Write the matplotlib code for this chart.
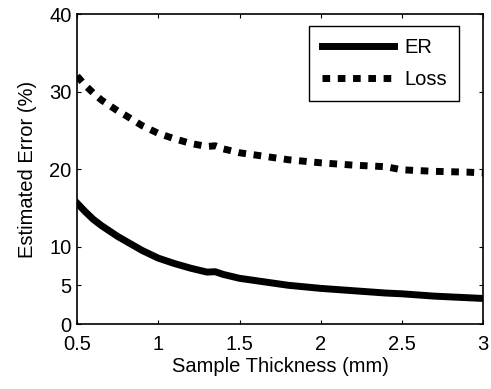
import matplotlib
matplotlib.use("Agg")
import matplotlib.pyplot as plt

plt.rcParams['font.family'] = ['Liberation Sans', 'DejaVu Sans']

# sample thickness (mm)
thickness = [0.5, 0.55, 0.6, 0.65, 0.7, 0.75, 0.8, 0.9, 1.0, 1.1, 1.2, 1.3,
             1.35, 1.4, 1.5, 1.6, 1.7, 1.8, 1.9, 2.0, 2.2, 2.4, 2.5, 2.7,
             2.9, 3.0]
# estimated error (%)
er = [15.6, 14.5, 13.5, 12.7, 12.0, 11.3, 10.7, 9.5, 8.5, 7.8, 7.2, 6.7,
      6.75, 6.4, 5.9, 5.6, 5.3, 5.0, 4.8, 4.6, 4.3, 4.0, 3.9, 3.6, 3.4, 3.3]
loss = [32.0, 30.8, 29.8, 28.9, 28.2, 27.5, 26.9, 25.6, 24.6, 23.9, 23.3,
        22.9, 23.0, 22.6, 22.1, 21.8, 21.5, 21.2, 21.0, 20.8, 20.5, 20.3,
        19.9, 19.7, 19.6, 19.5]

fig = plt.figure(figsize=(4.91, 3.89), dpi=100)
ax = fig.add_axes([0.157, 0.167, 0.827, 0.797])

ax.plot(thickness, er, color='black', lw=5, label='ER')
ax.plot(thickness, loss, color='black', lw=5, linestyle=(0, (1.1, 1.1)),
        dash_capstyle='butt', label='Loss')

ax.set_xlim(0.5, 3)
ax.set_ylim(0, 40)
ax.set_xticks([0.5, 1, 1.5, 2, 2.5, 3])
ax.set_xticklabels(['0.5', '1', '1.5', '2', '2.5', '3'])
ax.set_yticks([0, 5, 10, 20, 30, 40])
ax.tick_params(direction='in', top=True, right=True, labelsize=14.5, length=3)
ax.tick_params(axis='x', pad=8)
ax.tick_params(axis='y', pad=4)
for s in ax.spines.values():
    s.set_linewidth(1.2)

ax.set_xlabel('Sample Thickness (mm)', fontsize=14.5, labelpad=2)
ax.set_ylabel('Estimated Error (%)', fontsize=14.5, labelpad=9)

leg = ax.legend(loc='upper right', fontsize=14.5, handlelength=3.6,
                fancybox=False, framealpha=1, edgecolor='black',
                bbox_to_anchor=(0.94, 0.96), borderaxespad=0,
                borderpad=0.6, labelspacing=0.6, handletextpad=0.5)
leg.get_frame().set_linewidth(1.0)

fig.savefig('out.png', dpi=100)
